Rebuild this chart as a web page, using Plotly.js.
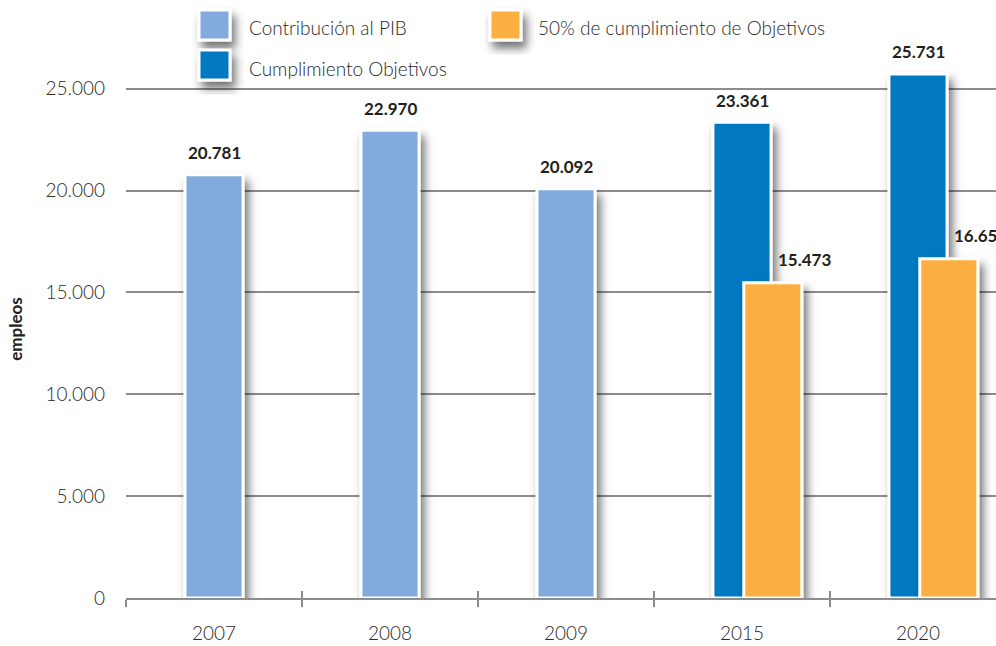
<!DOCTYPE html>
<html>
<head>
<meta charset="utf-8">
<script src="https://cdn.plot.ly/plotly-3.0.1.min.js"></script>
<style>
  html, body { margin: 0; padding: 0; background: #fff; }
  #chart { width: 996px; height: 646px; }
</style>
</head>
<body>
<div id="chart"></div>
<script>
// ---- data ----
const categories = ['2007', '2008', '2009', '2015', '2020'];
const pibYears = ['2007', '2008', '2009'];
const pibValues = [20781, 22970, 20092];
const objYears = ['2015', '2020'];
const objValues = [23361, 25731];
const halfYears = ['2015', '2020'];
const halfValues = [15473, 16653];
const seriesNames = ['Contribución al PIB', 'Cumplimiento Objetivos', '50% de cumplimiento de Objetivos'];
const seriesColors = ['#82AADC', '#0079C2', '#FBAF41'];
const yTitle = 'empleos';

// ---- layout helpers ----
const W = 996, H = 646;
const M = { l: 126, r: 0, t: 60, b: 48 };
const PW = W - M.l - M.r, PH = H - M.t - M.b;
const px2x = p => (p - M.l) / PW;
const px2y = p => (H - M.b - p) / PH;
const fmt = v => String(v).replace(/\B(?=(\d{3})+(?!\d))/g, '.');
const catIdx = c => categories.indexOf(c);

const gridCol = '#8c8c8c';
const lightFont = { family: 'Lato, "Open Sans", sans-serif', size: 19, color: '#2a2a2a', weight: 300 };
const labelFont = { family: 'Lato, "Open Sans", sans-serif', size: 17, color: '#231f20', weight: 700 };

const barLine = { color: '#ffffff', width: 3 };
const W_BAR = 0.33;

const traces = [
  { type: 'bar', name: seriesNames[0], x: pibYears, y: pibValues,
    width: W_BAR, offset: -W_BAR / 2,
    marker: { color: seriesColors[0], line: barLine }, hoverinfo: 'x+y' },
  { type: 'bar', name: seriesNames[1], x: objYears, y: objValues,
    width: W_BAR, offset: -W_BAR / 2,
    marker: { color: seriesColors[1], line: barLine }, hoverinfo: 'x+y' },
  { type: 'bar', name: seriesNames[2], x: halfYears, y: halfValues,
    width: W_BAR, offset: 0.01,
    marker: { color: seriesColors[2], line: barLine }, hoverinfo: 'x+y' },
  // invisible trace to carry the inner tick marks on the overlay axis
  { type: 'scatter', x: categories, y: categories.map(() => 0), xaxis: 'x2', mode: 'none',
    hoverinfo: 'skip', showlegend: false }
];

// value labels
const annotations = [];
pibYears.forEach((c, i) => annotations.push({ x: catIdx(c), y: pibValues[i], text: fmt(pibValues[i]),
  xref: 'x', yref: 'y', showarrow: false, yanchor: 'middle', yshift: 22, xshift: 0, font: labelFont }));
objYears.forEach((c, i) => annotations.push({ x: catIdx(c), y: objValues[i], text: fmt(objValues[i]),
  xref: 'x', yref: 'y', showarrow: false, yanchor: 'middle', yshift: 22, xshift: 0, font: labelFont }));
halfYears.forEach((c, i) => annotations.push({ x: catIdx(c), y: halfValues[i], text: fmt(halfValues[i]),
  xref: 'x', yref: 'y', showarrow: false, yanchor: 'middle', yshift: 23, xshift: 62, font: labelFont }));

// custom legend (swatches + text)
const legendItems = [
  { name: seriesNames[0], color: seriesColors[0], x0: 199, y0: 10, tx: 247, ty: 27 },
  { name: seriesNames[2], color: seriesColors[2], x0: 490, y0: 10, tx: 536, ty: 27 },
  { name: seriesNames[1], color: seriesColors[1], x0: 199, y0: 50, tx: 247, ty: 68 }
];
const shapes = [];
legendItems.forEach(it => {
  shapes.push({ type: 'rect', xref: 'paper', yref: 'paper',
    x0: px2x(it.x0), x1: px2x(it.x0 + 31), y0: px2y(it.y0 + 30), y1: px2y(it.y0),
    fillcolor: it.color, line: { color: '#ffffff', width: 3 }, layer: 'above' });
  annotations.push({ xref: 'paper', yref: 'paper', x: px2x(it.tx), y: px2y(it.ty),
    xanchor: 'left', yanchor: 'middle', showarrow: false, text: it.name,
    font: { family: 'Lato, "Open Sans", sans-serif', size: 19, color: '#2a2a2a', weight: 300 } });
});

const xRange = [-0.5, -0.5 + PW / 176];

const layout = {
  width: W, height: H,
  margin: M,
  paper_bgcolor: '#ffffff', plot_bgcolor: '#ffffff',
  separators: ',.',
  barmode: 'overlay',
  showlegend: false,
  xaxis: {
    type: 'category', categoryorder: 'array', categoryarray: categories,
    range: xRange, showgrid: false, zeroline: false,
    showline: true, linecolor: gridCol, linewidth: 2,
    ticks: 'outside', tickson: 'boundaries', ticklen: 7, tickwidth: 1.5, tickcolor: gridCol,
    tickfont: lightFont, ticklabelstandoff: 17, fixedrange: true
  },
  xaxis2: {
    type: 'category', categoryorder: 'array', categoryarray: categories,
    overlaying: 'x', anchor: 'y', side: 'bottom', range: xRange,
    showgrid: false, zeroline: false, showline: false,
    ticks: 'inside', tickson: 'boundaries', ticklen: 7, tickwidth: 1.5, tickcolor: gridCol,
    showticklabels: false
  },
  yaxis: {
    range: [0, PH / (509.2 / 25000)], dtick: 5000, tick0: 0, tickformat: ',d',
    showgrid: true, gridcolor: gridCol, gridwidth: 2,
    zeroline: false, showline: false, ticks: '',
    tickfont: lightFont, ticklabelstandoff: 20,
    title: { text: yTitle, font: { family: 'Lato, "Open Sans", sans-serif', size: 17, color: '#222222', weight: 700 }, standoff: 18 },
    automargin: false
  },
  annotations: annotations,
  shapes: shapes
};

Plotly.newPlot('chart', traces, layout, { staticPlot: true, displayModeBar: false }).then(gd => {
  const svg = gd.querySelector('.main-svg');
  const NS = 'http://www.w3.org/2000/svg';
  let defs = svg.querySelector('defs');
  if (!defs) { defs = document.createElementNS(NS, 'defs'); svg.insertBefore(defs, svg.firstChild); }
  const f = document.createElementNS(NS, 'filter');
  f.setAttribute('id', 'barShadow');
  f.setAttribute('x', '-50%'); f.setAttribute('y', '-50%');
  f.setAttribute('width', '200%'); f.setAttribute('height', '200%');
  const ds = document.createElementNS(NS, 'feDropShadow');
  ds.setAttribute('dx', '4'); ds.setAttribute('dy', '7');
  ds.setAttribute('stdDeviation', '5');
  ds.setAttribute('flood-color', '#000'); ds.setAttribute('flood-opacity', '0.55');
  f.appendChild(ds); defs.appendChild(f);
  gd.querySelectorAll('.barlayer .point path').forEach(p => p.setAttribute('filter', 'url(#barShadow)'));
  gd.querySelectorAll('.shapelayer path').forEach(p => p.setAttribute('filter', 'url(#barShadow)'));
});
</script>
</body>
</html>
